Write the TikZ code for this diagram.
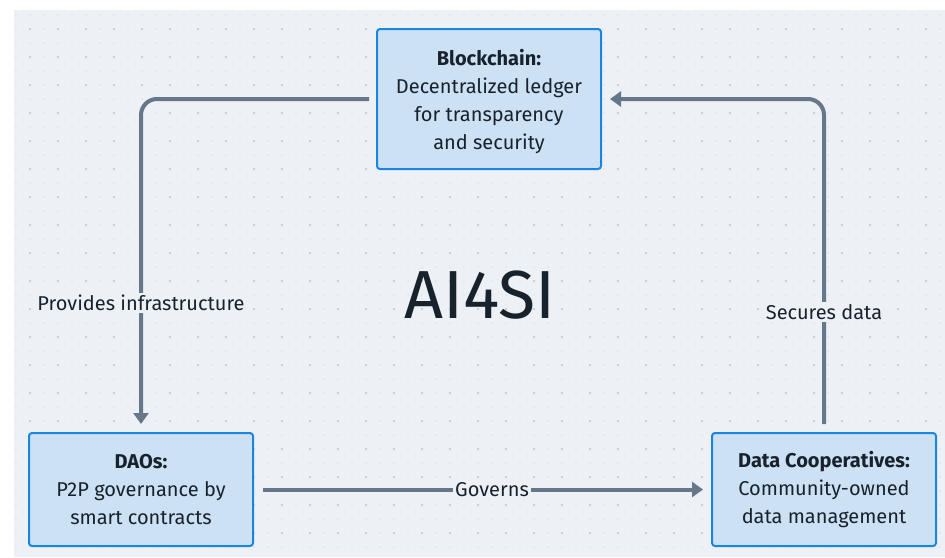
\documentclass[tikz,border=0pt]{standalone}
\usepackage{fontspec}
\setmainfont{Fira Sans}
\usetikzlibrary{arrows.meta}

\definecolor{canvasbg}{HTML}{EDF1F5}
\definecolor{gridlight}{HTML}{C9D2DD}
\definecolor{griddark}{HTML}{A9B6C6}
\definecolor{boxfill}{HTML}{CDE1F5}
\definecolor{boxline}{HTML}{1A86E0}
\definecolor{inkdark}{HTML}{17222D}
\definecolor{linkgray}{HTML}{66778A}

\tikzset{
  conceptbox/.style={draw=boxline, line width=2pt, fill=boxfill, rounded corners=3pt,
    minimum width=224pt, align=center, text=inkdark,
    font=\fontsize{20}{28}\selectfont, inner sep=0pt},
  link/.style={draw=linkgray, line width=4pt, rounded corners=16pt,
    -{Triangle[length=11pt,width=15pt]}},
  linklabel/.style={fill=canvasbg, text=inkdark, inner sep=2pt,
    font=\fontsize{20}{22}\selectfont}
}

\begin{document}
\begin{tikzpicture}[x=1pt, y=-1pt]
  \useasboundingbox (0,0) rectangle (945,557);
  % canvas with dotted grid
  \fill[canvasbg] (14,10) rectangle (945,557);
  \foreach \gx in {16,30,...,940} {
    \foreach \gy in {15,29,...,555} {
      \fill[gridlight] (\gx,\gy) circle (0.7pt);
    }
  }
  \foreach \gx in {30,58,...,940} {
    \foreach \gy in {29,57,...,555} {
      \fill[griddark] (\gx,\gy) circle (0.9pt);
    }
  }

  % the three components
  \node[conceptbox, minimum height=140pt] (bc) at (489,99)
    {\rule{0pt}{22pt}\textbf{Blockchain:}\\Decentralized ledger\\for transparency\\and security};
  \node[conceptbox, minimum height=113pt] (dao) at (141,489.5)
    {\textbf{DAOs:}\\P2P governance by\\smart contracts};
  \node[conceptbox, minimum height=113pt] (dc) at (824,489.5)
    {\textbf{Data Cooperatives:}\\Community-owned\\data management};

  % central title
  \node[text=inkdark, font=\fontsize{68}{74}\selectfont] (title) at (480,295) {AI4SI};

  % connectors
  \draw[link, shorten <=7pt, shorten >=8pt] (bc.west) -| (dao.north);
  \draw[link, shorten <=8pt, shorten >=8pt] (dc.north) |- (bc.east);
  \draw[link, shorten <=9pt, shorten >=8pt] (dao.east) -- (dc.west);

  % connector labels
  \node[linklabel] (lprov) at (141,303) {Provides infrastructure};
  \node[linklabel] (lsec) at (824,312) {Secures data};
  \node[linklabel] (lgov) at (492,490) {Governs};
\end{tikzpicture}
\end{document}
